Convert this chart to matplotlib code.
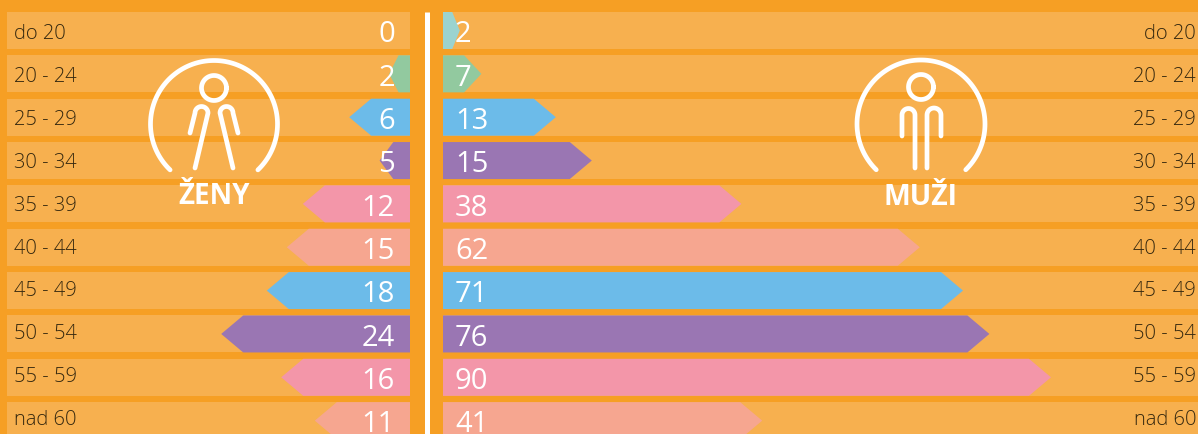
"""
Age pyramid of women and men on an orange background.
"""

import matplotlib.pyplot as plt
import numpy as np

plt.rcParams["font.family"] = ["Open Sans", "DejaVu Sans"]

age_groups = ["do 20", "20 - 24", "25 - 29", "30 - 34", "35 - 39",
              "40 - 44", "45 - 49", "50 - 54", "55 - 59", "nad 60"]

# printed numbers
zeny_values = [0, 2, 6, 5, 12, 15, 18, 24, 16, 11]
muzi_values = [2, 7, 13, 15, 38, 62, 71, 76, 90, 41]

# the arrows are not quite to scale in the original, so the drawn
# length is read off the picture separately from the printed number
zeny_drawn = [0, 2.6, 7.6, 3.8, 13.4, 15.4, 17.9, 23.6, 16.1, 11.9]
muzi_drawn = [2.1, 4.8, 14.1, 18.6, 37.3, 59.6, 65, 68.3, 76, 39.9]

row_colors = ["#9BD3CF", "#92C99F", "#6CBBE9", "#9A76B3", "#F396A9",
              "#F6A690", "#6CBBE9", "#9A76B3", "#F396A9", "#F6A690"]

BG = "#F69F24"
BAND = "#F7B04F"
TEXT = "#35280F"
W, H = 1198, 434
PX_PER_UNIT = 8
ROW_PITCH = 43.35
ROW_TOP = 30.5
BAR_H = 37 / ROW_PITCH
HEAD = 22 / PX_PER_UNIT

LINE = dict(color="white", linewidth=3.4, solid_capstyle="round",
            solid_joinstyle="round", zorder=6)


def panel(fig, x0, x1, inverted):
    ax = fig.add_axes([x0 / W, 0, (x1 - x0) / W, 1])
    span = (x1 - x0) / PX_PER_UNIT
    ax.set_xlim(span, 0) if inverted else ax.set_xlim(0, span)
    ax.set_ylim((H - ROW_TOP) / ROW_PITCH, -ROW_TOP / ROW_PITCH)
    ax.axis("off")
    return ax


def draw_rows(ax, drawn, span):
    y = np.arange(len(age_groups))
    ax.barh(y, span, height=BAR_H, left=0, color=BAND, linewidth=0, zorder=1)
    for i, length in enumerate(drawn):
        if length > 0:
            head = min(HEAD, 0.45 * length)
            ax.fill(
                [0, length - head, length, length - head, 0],
                [i - BAR_H / 2, i - BAR_H / 2, i, i + BAR_H / 2, i + BAR_H / 2],
                color=row_colors[i], linewidth=0, zorder=2,
            )


def draw_figure_icon(ax, cx, cy, r, ends, head_y, arms):
    # open ring, the gap is at the bottom
    ang0 = np.arctan2(ends[1] - cy, ends[0] - cx)
    t = np.linspace(ang0, np.pi - ang0 + 2 * np.pi, 120)
    ax.plot(cx + r * np.cos(t), cy + r * np.sin(t), **LINE)
    t = np.linspace(0, 2 * np.pi, 60)
    ax.plot(cx + 12.5 * np.cos(t), head_y + 12.5 * np.sin(t), **LINE)
    for (x_a, y_a, x_b, y_b, x_c, y_c, x_d, y_d) in arms:
        mx, my = (x_b + x_c) / 2, (y_b + y_c) / 2
        rad = np.hypot(x_c - x_b, y_c - y_b) / 2
        start = np.arctan2(y_b - my, x_b - mx)
        # arch goes over the top of the arm
        t = np.linspace(start, start + np.pi, 20)
        xs = np.r_[x_a, mx + rad * np.cos(t), x_d]
        ys = np.r_[y_a, my + rad * np.sin(t), y_d]
        ax.plot(xs, ys, **LINE)


fig = plt.figure(figsize=(W / 100, H / 100), dpi=100, facecolor=BG)

ax_l = panel(fig, 7, 410, inverted=True)
ax_r = panel(fig, 443, W, inverted=False)
draw_rows(ax_l, zeny_drawn, (410 - 7) / PX_PER_UNIT)
draw_rows(ax_r, muzi_drawn, (W - 443) / PX_PER_UNIT)

# overlay in pixel coordinates for labels, divider and icons
over = fig.add_axes([0, 0, 1, 1])
over.set_xlim(0, W)
over.set_ylim(H, 0)
over.axis("off")
over.patch.set_alpha(0)

over.plot([426.5, 426.5], [12, H], color="white", linewidth=3.6,
          solid_capstyle="butt", zorder=3)

for i, group in enumerate(age_groups):
    label_y = 34 + 42.9 * i
    value_y = 35 + 43.3 * i
    over.text(14, label_y, group, color=TEXT, fontsize=14.5, fontweight="light",
              ha="left", va="center", zorder=4)
    over.text(1196, label_y, group, color=TEXT, fontsize=14.5, fontweight="light",
              ha="right", va="center", zorder=4)
    over.text(395, value_y, str(zeny_values[i]), color="white", fontsize=21,
              ha="right", va="center", zorder=5)
    over.text(455, value_y, str(muzi_values[i]), color="white", fontsize=21,
              ha="left", va="center", zorder=5)

draw_figure_icon(over, 214, 124, 63.5, (170, 170), 88, [
    (190, 133, 195, 113, 208, 113, 195, 168),
    (233, 168, 220, 113, 233, 113, 238, 133),
])
draw_figure_icon(over, 921, 124, 64, (877, 169), 87, [
    (902, 136, 902, 115, 915, 115, 915, 168),
    (927, 168, 927, 115, 941, 115, 941, 136),
])

over.text(214, 204, "ŽENY", color="white", fontsize=20, fontweight="bold",
          ha="center", va="baseline", zorder=6)
over.text(921, 205, "MUŽI", color="white", fontsize=20.5, fontweight="bold",
          ha="center", va="baseline", zorder=6)

fig.savefig("out.png", dpi=100, facecolor=BG)
